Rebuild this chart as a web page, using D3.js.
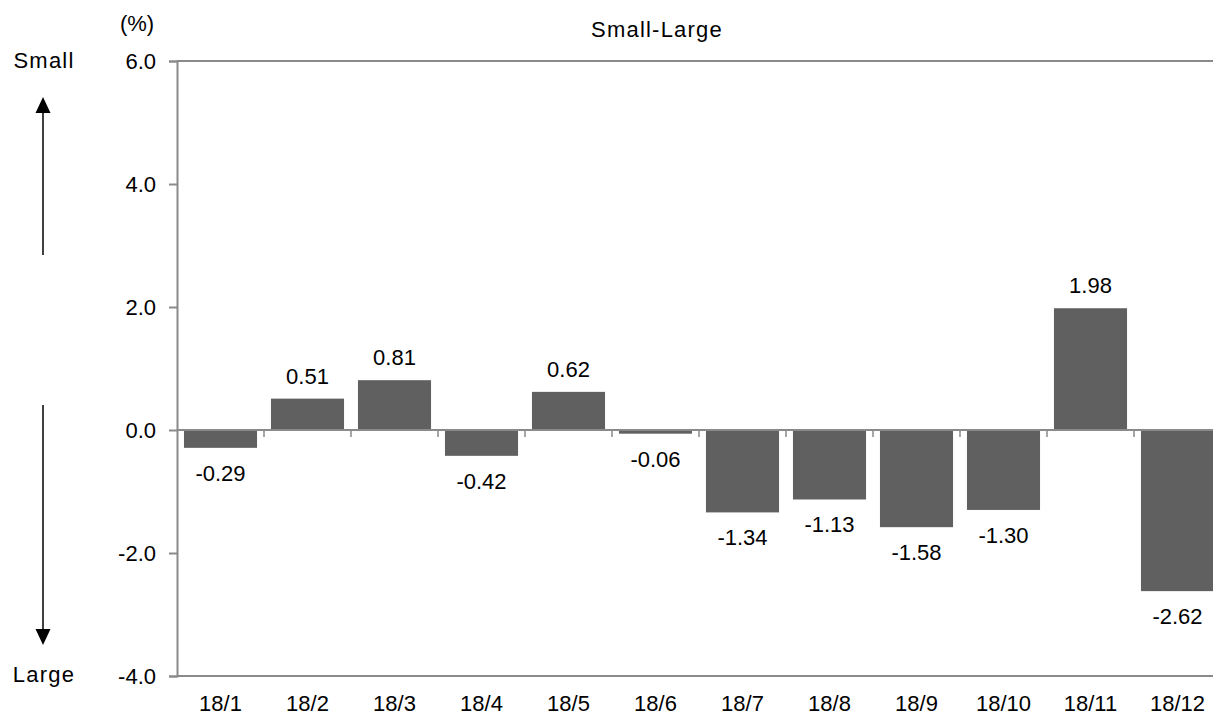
<!DOCTYPE html>
<html>
<head>
<meta charset="utf-8">
<script src="https://cdn.jsdelivr.net/npm/d3@7"></script>
<style>
  body { margin: 0; background: #fff; }
  text { font-family: "Liberation Sans", Arial, sans-serif; }
</style>
</head>
<body>
<script>
var months = ["18/1", "18/2", "18/3", "18/4", "18/5", "18/6",
              "18/7", "18/8", "18/9", "18/10", "18/11", "18/12"];
var values = [-0.29, 0.51, 0.81, -0.42, 0.62, -0.06,
              -1.34, -1.13, -1.58, -1.30, 1.98, -2.62];
var yTicks = [-4, -2, 0, 2, 4, 6];

var svg = d3.select("body").append("svg")
    .attr("width", 1213)
    .attr("height", 717);

var x = d3.scaleBand()
    .domain(months)
    .range([177, 1221])
    .paddingInner(0.16)
    .paddingOuter(0.08);

var y = d3.scaleLinear()
    .domain([-4, 6])
    .range([676, 61]);

var axisColor = "#8a8a8a";
var fs = 22;

// y axis with ticks
var yAxis = svg.append("g")
    .attr("transform", "translate(177,0)")
    .call(d3.axisLeft(y)
        .tickValues(yTicks)
        .tickSize(8)
        .tickPadding(13)
        .tickFormat(function(d) { return d.toFixed(1); }));
yAxis.select(".domain").attr("stroke", axisColor).attr("stroke-width", 2);
yAxis.selectAll(".tick line").attr("stroke", axisColor).attr("stroke-width", 2);
yAxis.selectAll(".tick text")
    .attr("fill", "#000")
    .attr("font-size", fs)
    .attr("font-family", "Liberation Sans, Arial, sans-serif");

// top and bottom frame lines
svg.selectAll(".frame").data([6, -4]).enter().append("line")
    .attr("x1", 177).attr("x2", 1221)
    .attr("y1", function(d) { return y(d); })
    .attr("y2", function(d) { return y(d); })
    .attr("stroke", axisColor)
    .attr("stroke-width", 2);

// bars
svg.selectAll(".bar").data(values).enter().append("rect")
    .attr("x", function(d, i) { return x(months[i]); })
    .attr("width", x.bandwidth())
    .attr("y", function(d) { return y(Math.max(0, d)); })
    .attr("height", function(d) { return Math.abs(y(d) - y(0)); })
    .attr("fill", "#606060");

// zero line with category ticks
svg.append("line")
    .attr("x1", 177).attr("x2", 1221)
    .attr("y1", y(0)).attr("y2", y(0))
    .attr("stroke", axisColor)
    .attr("stroke-width", 2);
svg.selectAll(".ctick").data(months.slice(1)).enter().append("line")
    .attr("x1", function(d) { return x(d) - x.step() * x.paddingInner() / 2; })
    .attr("x2", function(d) { return x(d) - x.step() * x.paddingInner() / 2; })
    .attr("y1", y(0))
    .attr("y2", y(0) + 7)
    .attr("stroke", axisColor)
    .attr("stroke-width", 1.5);

// value labels
svg.selectAll(".val").data(values).enter().append("text")
    .attr("x", function(d, i) { return x(months[i]) + x.bandwidth() / 2; })
    .attr("y", function(d) { return d >= 0 ? y(d) - 15 : y(d) + 33; })
    .attr("text-anchor", "middle")
    .attr("font-size", fs)
    .text(function(d) { return d.toFixed(2); });

// category labels
svg.selectAll(".cat").data(months).enter().append("text")
    .attr("x", function(d) { return x(d) + x.bandwidth() / 2; })
    .attr("y", 711)
    .attr("text-anchor", "middle")
    .attr("font-size", fs)
    .text(function(d) { return d; });

// title and unit
svg.append("text")
    .attr("x", 657).attr("y", 37)
    .attr("text-anchor", "middle")
    .attr("font-size", fs)
    .attr("letter-spacing", 1.2)
    .text("Small-Large");
svg.append("text")
    .attr("x", 137).attr("y", 31)
    .attr("text-anchor", "middle")
    .attr("font-size", fs)
    .text("(%)");

// side notes
svg.append("text")
    .attr("x", 44).attr("y", 68)
    .attr("text-anchor", "middle")
    .attr("font-size", fs)
    .attr("letter-spacing", 1.2)
    .text("Small");
svg.append("text")
    .attr("x", 44).attr("y", 682)
    .attr("text-anchor", "middle")
    .attr("font-size", fs)
    .attr("letter-spacing", 1.2)
    .text("Large");

// arrows
svg.append("line")
    .attr("x1", 43).attr("x2", 43).attr("y1", 112).attr("y2", 255)
    .attr("stroke", "#000").attr("stroke-width", 1.5);
svg.append("path")
    .attr("d", "M43,97L50.5,113L35.5,113Z")
    .attr("fill", "#000");
svg.append("line")
    .attr("x1", 43).attr("x2", 43).attr("y1", 405).attr("y2", 631)
    .attr("stroke", "#000").attr("stroke-width", 1.5);
svg.append("path")
    .attr("d", "M43,645L50.5,629L35.5,629Z")
    .attr("fill", "#000");
</script>
</body>
</html>
